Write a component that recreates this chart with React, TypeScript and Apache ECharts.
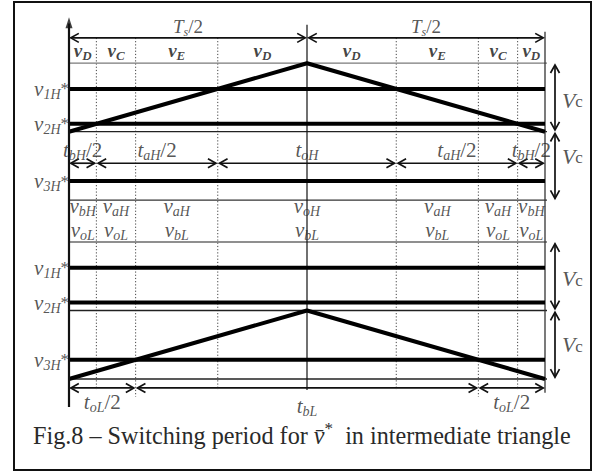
import React, { useEffect, useRef } from "react";
import * as echarts from "echarts";

// Time is measured in units of Ts/2 (0..2 is one switching period),
// voltage in units of the carrier height Vc.

// reference levels, as a fraction of their carrier band
const v1H = 0.625;
const v2H = 0.115;
const v3H = 0.28;

// triangular carrier: time instants and normalised height
const carrierT = [0, 1, 2];
const carrierV = [0, 1, 0];

// switching instants where the carriers cross the references
const upperInstants = [0.115, 0.625, 1.375, 1.885];
const lowerInstants = [0.28, 1.72];

// sector boundaries for the top row of applied vectors
const vectorBounds = [0, 0.115, 0.28, 0.625, 1, 1.375, 1.72, 1.885, 2];
const vectorNames = ["D", "C", "E", "D", "D", "E", "C", "D"];

// boundaries of the state rows (upper / lower converter)
const stateBounds = [0, 0.115, 0.28, 0.625, 1.375, 1.72, 1.885, 2];
const stateHigh = ["bH", "aH", "aH", "oH", "aH", "aH", "bH"];
const stateLow = ["oL", "oL", "bL", "bL", "bL", "oL", "oL"];

// time-interval dimensions
const highIntervals = [
  [0, 0.115, "bH", true],
  [0.115, 0.625, "aH", true],
  [0.625, 1.375, "oH", false],
  [1.375, 1.885, "aH", true],
  [1.885, 2, "bH", true],
];
const lowIntervals = [
  [0, 0.28, "oL", true],
  [0.28, 1.72, "bL", false],
  [1.72, 2, "oL", true],
];

// layout of the two stacked diagrams (in Vc units)
const TOP_BASE = 2.61;
const Y_TS_ARROW = 4.98;
const Y_TS_TEXT = 5.15;
const Y_VEC_TEXT = 4.79;
const Y_MID_ARROW = 3.15;
const Y_MID_TEXT = 3.34;
const Y_ROW1 = 2.52;
const Y_ROW2 = 2.17;
const Y_BOT_ARROW = -0.13;
const Y_BOT_TEXT = -0.34;
const Y_TBL_TEXT = -0.394;
const X_BAND_END = 2.063;
const X_VC = 2.042;
const X_VC_TEXT = 2.071;
const vcTextY = [4.07, 3.25, 1.46, 0.5];

const SERIF = "'Liberation Serif', 'Times New Roman', Times, serif";
const INK = "#111";
const TXT = "#2a2a2a";

const rich: any = {
  it: { fontFamily: SERIF, fontStyle: "italic", fontSize: 21, lineHeight: 25, color: TXT },
  rm: { fontFamily: SERIF, fontSize: 21, lineHeight: 25, color: TXT },
  sub: { fontFamily: SERIF, fontStyle: "italic", fontSize: 14, verticalAlign: "bottom", color: TXT },
  sup: { fontFamily: SERIF, fontSize: 17, color: TXT },
  ts: { fontFamily: SERIF, fontStyle: "italic", fontSize: 19, lineHeight: 23, color: TXT },
  tss: { fontFamily: SERIF, fontStyle: "italic", fontSize: 12, verticalAlign: "bottom", color: TXT },
  tsr: { fontFamily: SERIF, fontSize: 19, lineHeight: 23, color: TXT },
  bd: { fontFamily: SERIF, fontStyle: "italic", fontWeight: "bold", fontSize: 19, lineHeight: 22, color: INK },
  bsub: { fontFamily: SERIF, fontStyle: "italic", fontWeight: "bold", fontSize: 13, verticalAlign: "bottom", color: INK },
  vc: { fontFamily: SERIF, fontStyle: "italic", fontSize: 22, lineHeight: 28, color: TXT },
  vcs: { fontFamily: SERIF, fontSize: 17, lineHeight: 28, padding: [3, 0, 0, 0], color: TXT },
};

const mid = (a: number, b: number) => (a + b) / 2;

function lineSeries(points: number[][], width: number, color: string, type: any = "solid", z = 3) {
  return {
    type: "line",
    data: points,
    symbol: "none",
    silent: true,
    clip: false,
    z,
    lineStyle: { width, color, type, cap: "butt" },
  };
}

export default function App() {
  const ref = useRef<HTMLDivElement>(null);

  useEffect(() => {
    if (!ref.current) return;
    document.body.style.margin = "0";
    const chart = echarts.init(ref.current, undefined, { renderer: "svg" });

    const series: any[] = [];

    // carrier band borders
    const bands = [
      [TOP_BASE + 2, "#7a7a7a"],
      [TOP_BASE + 1, "#222"],
      [TOP_BASE, "#333"],
      [2, "#6a6a6a"],
      [1, "#222"],
      [0, "#222"],
    ] as [number, string][];
    bands.forEach(([y, c]) => series.push(lineSeries([[0, y], [X_BAND_END, y]], 1.3, c)));

    // dotted switching instants
    upperInstants.forEach((t) => series.push(lineSeries([[t, Y_TS_ARROW], [t, -0.16]], 1, "#444", [1.2, 2], 2)));
    lowerInstants.forEach((t) => series.push(lineSeries([[t, Y_TS_ARROW], [t, -0.26]], 1, "#444", [1.2, 2], 2)));

    // time axis and the mid / end verticals
    series.push(lineSeries([[0, -0.41], [0, 5.19]], 2.2, INK, "solid", 5));
    series.push(lineSeries([[1, -0.16], [1, 5.17]], 1.2, INK));
    series.push(lineSeries([[2, -0.2], [2, 5.07]], 1.3, "#333"));
    series.push({
      type: "scatter",
      data: [[0, 5.2]],
      symbol: "triangle",
      symbolSize: [7, 11],
      itemStyle: { color: INK },
      silent: true,
      clip: false,
      z: 6,
    });

    // references (thick)
    const refs = [TOP_BASE + 1 + v1H, TOP_BASE + 1 + v2H, TOP_BASE + v3H, 1 + v1H, 1 + v2H, v3H];
    refs.forEach((y) => series.push(lineSeries([[0, y], [2, y]], 4, "#000", "solid", 4)));

    // carriers
    series.push(lineSeries(carrierT.map((t, i) => [t, TOP_BASE + 1 + carrierV[i]]), 4, "#000", "solid", 4));
    series.push(lineSeries(carrierT.map((t, i) => [t, carrierV[i]]), 4, "#000", "solid", 4));

    // dimension arrows [x1, y1, x2, y2]
    const dims: number[][] = [
      [0, Y_TS_ARROW, 1, Y_TS_ARROW],
      [1, Y_TS_ARROW, 2, Y_TS_ARROW],
      ...highIntervals.map((d) => [d[0] as number, Y_MID_ARROW, d[1] as number, Y_MID_ARROW]),
      ...lowIntervals.map((d) => [d[0] as number, Y_BOT_ARROW, d[1] as number, Y_BOT_ARROW]),
      [X_VC, TOP_BASE + 1, X_VC, TOP_BASE + 2],
      [X_VC, TOP_BASE, X_VC, TOP_BASE + 1],
      [X_VC, 1, X_VC, 2],
      [X_VC, 0, X_VC, 1],
    ];
    series.push({
      type: "custom",
      coordinateSystem: "cartesian2d",
      silent: true,
      clip: false,
      z: 5,
      data: dims,
      renderItem: (_p: any, api: any) => {
        const a = api.coord([api.value(0), api.value(1)]);
        const b = api.coord([api.value(2), api.value(3)]);
        const dx = b[0] - a[0];
        const dy = b[1] - a[1];
        const len = Math.hypot(dx, dy);
        const ux = dx / len;
        const uy = dy / len;
        const nx = -uy;
        const ny = ux;
        const gap = 1.8;
        const p = [a[0] + ux * gap, a[1] + uy * gap];
        const q = [b[0] - ux * gap, b[1] - uy * gap];
        const head = 8;
        const half = 4.5;
        const headAt = (t: number[], dir: number) => [
          [t[0] + dir * ux * head + nx * half, t[1] + dir * uy * head + ny * half],
          [t[0], t[1]],
          [t[0] + dir * ux * head - nx * half, t[1] + dir * uy * head - ny * half],
        ];
        const st = { stroke: INK, lineWidth: 1.7, fill: "none" };
        return {
          type: "group",
          children: [
            { type: "line", shape: { x1: p[0], y1: p[1], x2: q[0], y2: q[1] }, style: st },
            { type: "polyline", shape: { points: headAt(p, 1) }, style: st },
            { type: "polyline", shape: { points: headAt(q, -1) }, style: st },
          ],
        };
      },
    });

    // text labels
    const labels: any[] = [];
    const lbl = (x: number, y: number, text: string, extra: any = {}) =>
      labels.push({ value: [x, y], label: { formatter: text, ...extra } });

    // Ts/2
    lbl(0.5, Y_TS_TEXT, "{ts|T}{tss|s}{tsr|/2}");
    lbl(1.5, Y_TS_TEXT, "{ts|T}{tss|s}{tsr|/2}");

    // applied vectors
    vectorNames.forEach((n, i) =>
      lbl(mid(vectorBounds[i], vectorBounds[i + 1]), Y_VEC_TEXT, `{bd|v}{bsub|${n}}`)
    );

    // references on the left
    const refNames = ["1H", "2H", "3H", "1H", "2H", "3H"];
    refs.forEach((y, i) =>
      lbl(0, y, `{it|v}{sub|${refNames[i]}}{sup|*}`, { align: "right", offset: [-2, -5] })
    );

    // interval names
    highIntervals.forEach((d) =>
      lbl(mid(d[0] as number, d[1] as number), Y_MID_TEXT, d[3] ? `{it|t}{sub|${d[2]}}{rm|/2}` : `{it|t}{sub|${d[2]}}`)
    );
    lowIntervals.forEach((d) =>
      lbl(
        mid(d[0] as number, d[1] as number),
        d[3] ? Y_BOT_TEXT : Y_TBL_TEXT,
        d[3] ? `{it|t}{sub|${d[2]}}{rm|/2}` : `{it|t}{sub|${d[2]}}`
      )
    );

    // converter states
    stateHigh.forEach((s, i) => lbl(mid(stateBounds[i], stateBounds[i + 1]), Y_ROW1, `{it|v}{sub|${s}}`));
    stateLow.forEach((s, i) => lbl(mid(stateBounds[i], stateBounds[i + 1]), Y_ROW2, `{it|v}{sub|${s}}`));

    // carrier height
    vcTextY.forEach((y) => lbl(X_VC_TEXT, y, "{vc|V}{vcs|c}", { align: "left" }));

    series.push({
      type: "scatter",
      data: labels,
      symbol: "circle",
      symbolSize: 1,
      itemStyle: { color: "rgba(0,0,0,0)" },
      silent: true,
      clip: false,
      z: 8,
      label: {
        show: true,
        position: "inside",
        align: "center",
        verticalAlign: "middle",
        color: TXT,
        fontFamily: SERIF,
        rich,
      },
      labelLayout: { hideOverlap: false },
    });

    chart.setOption({
      animation: false,
      backgroundColor: "#fff",
      title: {
        left: 33,
        top: 420,
        padding: 0,
        text: "{rm|Fig.8 – Switching period for }{ov|v\u0304}{cs|*}{rm|  in intermediate triangle}",
        textStyle: {
          fontFamily: SERIF,
          fontWeight: "normal",
          fontSize: 24.2,
          color: TXT,
          rich: {
            rm: { fontFamily: SERIF, fontSize: 24.2, lineHeight: 30, color: TXT },
            ov: { fontFamily: SERIF, fontStyle: "italic", fontSize: 24.2, lineHeight: 30, color: TXT },
            cs: { fontFamily: SERIF, fontSize: 17, verticalAlign: "top", color: TXT },
          },
        },
      },
      grid: { left: 69, right: 51, top: 15.95, bottom: 10.8 },
      xAxis: { type: "value", min: 0, max: 2, show: false },
      yAxis: { type: "value", min: -1.2, max: 5.3, show: false },
      graphic: [
        {
          type: "rect",
          shape: { x: 14, y: 2, width: 577, height: 468 },
          style: { fill: "none", stroke: "#111", lineWidth: 2 },
          silent: true,
          z: 10,
        },
      ],
      series,
    });

    return () => chart.dispose();
  }, []);

  return (
    <div
      ref={ref}
      style={{ position: "fixed", left: 0, top: 0, width: 596, height: 472, background: "#fff" }}
    />
  );
}
